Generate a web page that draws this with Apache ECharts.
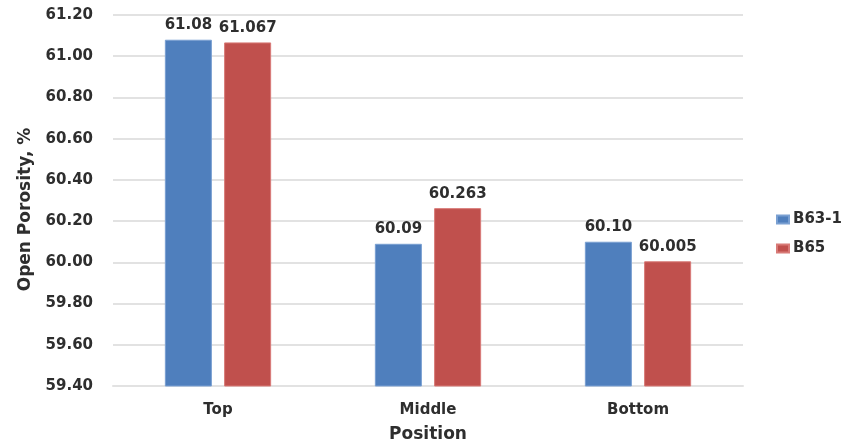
<!DOCTYPE html>
<html>
<head>
<meta charset="utf-8">
<script src="https://cdn.jsdelivr.net/npm/echarts@6/dist/echarts.min.js"></script>
<style>
  html, body { margin: 0; padding: 0; background: #fff; }
  #chart { width: 846px; height: 445px; }
</style>
</head>
<body>
<div id="chart"></div>
<script>
// Open porosity by sample position
const positions = ['Top', 'Middle', 'Bottom'];
const seriesNames = ['B63-1', 'B65'];
const b631Values = [61.08, 60.09, 60.10];
const b65Values = [61.067, 60.263, 60.005];
const b631Labels = ['61.08', '60.09', '60.10'];
const b65Labels = ['61.067', '60.263', '60.005'];
const yTicks = { min: 59.4, max: 61.2, step: 0.2 };

const textColor = '#2e2e2e';
const fontFamily = '"DejaVu Sans", sans-serif';

const chart = echarts.init(document.getElementById('chart'));

function barSeries(name, values, labels, color, border) {
  return {
    name: name,
    type: 'bar',
    data: values,
    barWidth: '22.4%',
    barGap: '26%',
    itemStyle: { color: color, borderColor: border, borderWidth: 1 },
    label: {
      show: true,
      position: 'top',
      distance: 7,
      color: textColor,
      fontFamily: fontFamily,
      fontWeight: 'bold',
      fontSize: 15,
      formatter: p => labels[p.dataIndex]
    }
  };
}

chart.setOption({
  animation: false,
  textStyle: { fontFamily: fontFamily },
  grid: { left: 113, right: 103, top: 15, bottom: 59, containLabel: false, outerBoundsMode: 'none' },
  legend: {
    orient: 'vertical',
    left: 776,
    top: 212,
    padding: 0,
    itemWidth: 12,
    itemHeight: 8,
    itemGap: 14,
    icon: 'rect',
    data: seriesNames,
    textStyle: { color: textColor, fontFamily: fontFamily, fontWeight: 'bold', fontSize: 15, padding: [0, 0, 0, -1] }
  },
  xAxis: {
    type: 'category',
    data: positions,
    name: 'Position',
    nameLocation: 'middle',
    nameGap: 40,
    nameTextStyle: { color: textColor, fontFamily: fontFamily, fontWeight: 'bold', fontSize: 17 },
    axisLine: { show: true, lineStyle: { color: '#e2e2e2', width: 2 } },
    axisTick: { show: false },
    axisLabel: { color: textColor, fontFamily: fontFamily, fontWeight: 'bold', fontSize: 15, margin: 17 }
  },
  yAxis: {
    type: 'value',
    min: yTicks.min,
    max: yTicks.max,
    interval: yTicks.step,
    name: 'Open Porosity, %',
    nameLocation: 'middle',
    nameGap: 79,
    nameTextStyle: {
      color: textColor,
      fontFamily: fontFamily,
      fontWeight: 'bold',
      fontSize: 17,
      padding: [0, 18, 0, 0]
    },
    axisLine: { show: false },
    axisTick: { show: false },
    axisLabel: {
      color: textColor,
      fontFamily: fontFamily,
      fontWeight: 'bold',
      fontSize: 15,
      margin: 20,
      formatter: v => v.toFixed(2)
    },
    splitLine: { lineStyle: { color: '#e2e2e2', width: 2 } }
  },
  series: [
    barSeries(seriesNames[0], b631Values, b631Labels, '#4f7fbd', '#7aa0d2'),
    barSeries(seriesNames[1], b65Values, b65Labels, '#c0504d', '#d87a77')
  ]
});
</script>
</body>
</html>
